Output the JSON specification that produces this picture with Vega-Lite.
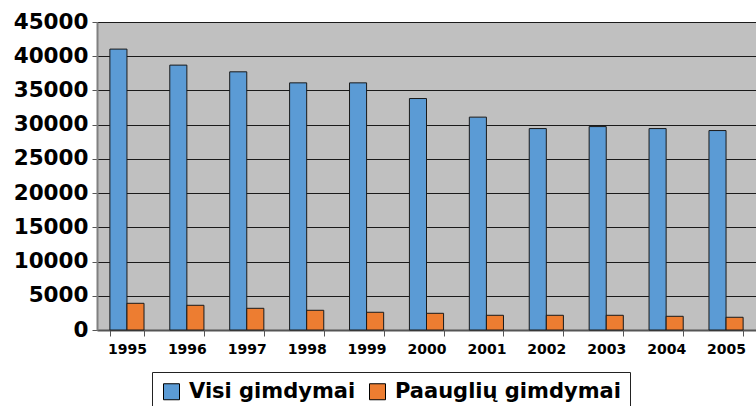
{
  "$schema": "https://vega.github.io/schema/vega-lite/v6.json",
  "width": 659,
  "height": 308,
  "autosize": {"type": "none"},
  "padding": {"left": 97, "top": 22, "right": 0, "bottom": 76},
  "background": "white",
  "config": {
    "font": "DejaVu Sans",
    "view": {"fill": "#C0C0C0", "stroke": "#9A9A9A", "strokeWidth": 1}
  },
  "data": {
    "values": [
      {"year": "1995", "series": "Visi gimdymai", "value": 41040},
      {"year": "1996", "series": "Visi gimdymai", "value": 38700},
      {"year": "1997", "series": "Visi gimdymai", "value": 37720},
      {"year": "1998", "series": "Visi gimdymai", "value": 36110},
      {"year": "1999", "series": "Visi gimdymai", "value": 36110},
      {"year": "2000", "series": "Visi gimdymai", "value": 33820},
      {"year": "2001", "series": "Visi gimdymai", "value": 31100},
      {"year": "2002", "series": "Visi gimdymai", "value": 29430},
      {"year": "2003", "series": "Visi gimdymai", "value": 29720},
      {"year": "2004", "series": "Visi gimdymai", "value": 29430},
      {"year": "2005", "series": "Visi gimdymai", "value": 29140},
      {"year": "1995", "series": "Paauglių gimdymai", "value": 3900},
      {"year": "1996", "series": "Paauglių gimdymai", "value": 3610},
      {"year": "1997", "series": "Paauglių gimdymai", "value": 3170},
      {"year": "1998", "series": "Paauglių gimdymai", "value": 2880},
      {"year": "1999", "series": "Paauglių gimdymai", "value": 2590},
      {"year": "2000", "series": "Paauglių gimdymai", "value": 2440},
      {"year": "2001", "series": "Paauglių gimdymai", "value": 2150},
      {"year": "2002", "series": "Paauglių gimdymai", "value": 2150},
      {"year": "2003", "series": "Paauglių gimdymai", "value": 2150},
      {"year": "2004", "series": "Paauglių gimdymai", "value": 2000},
      {"year": "2005", "series": "Paauglių gimdymai", "value": 1860}
    ]
  },
  "mark": {"type": "bar", "stroke": "#1a1a1a", "strokeWidth": 1},
  "encoding": {
    "x": {
      "field": "year",
      "type": "nominal",
      "title": null,
      "scale": {"paddingInner": 0.43, "paddingOuter": 0.215},
      "axis": {
        "labelAngle": 0,
        "labelFont": "DejaVu Sans",
        "labelFontWeight": "bold",
        "labelFontSize": 14,
        "labelColor": "black",
        "labelPadding": 6,
        "tickBand": "extent",
        "tickSize": 6,
        "tickColor": "#555555",
        "domainColor": "#555555",
        "domainWidth": 2
      }
    },
    "xOffset": {
      "field": "series",
      "type": "nominal",
      "sort": ["Visi gimdymai", "Paauglių gimdymai"]
    },
    "y": {
      "field": "value",
      "type": "quantitative",
      "title": null,
      "scale": {"domain": [0, 45000], "nice": false},
      "axis": {
        "values": [0, 5000, 10000, 15000, 20000, 25000, 30000, 35000, 40000, 45000],
        "format": "d",
        "labelFont": "DejaVu Sans",
        "labelFontWeight": "bold",
        "labelFontSize": 21.5,
        "labelColor": "black",
        "labelPadding": 4,
        "tickSize": 5,
        "tickColor": "#555555",
        "domainColor": "#808080",
        "domainWidth": 2,
        "gridColor": "#1a1a1a",
        "gridWidth": 1.2
      }
    },
    "color": {
      "field": "series",
      "type": "nominal",
      "sort": ["Visi gimdymai", "Paauglių gimdymai"],
      "scale": {"domain": ["Visi gimdymai", "Paauglių gimdymai"], "range": ["#5B9BD5", "#ED7D31"]},
      "legend": {
        "title": null,
        "orient": "none",
        "legendX": 55,
        "legendY": 350,
        "direction": "horizontal",
        "symbolType": "square",
        "symbolSize": 256,
        "symbolStrokeColor": "black",
        "symbolStrokeWidth": 1,
        "labelFont": "DejaVu Sans",
        "labelFontWeight": "bold",
        "labelFontSize": 21,
        "labelColor": "black",
        "labelOffset": 7,
        "columnPadding": 11,
        "labelLimit": 400,
        "padding": 9,
        "strokeColor": "#222222",
        "fillColor": "white"
      }
    }
  }
}
